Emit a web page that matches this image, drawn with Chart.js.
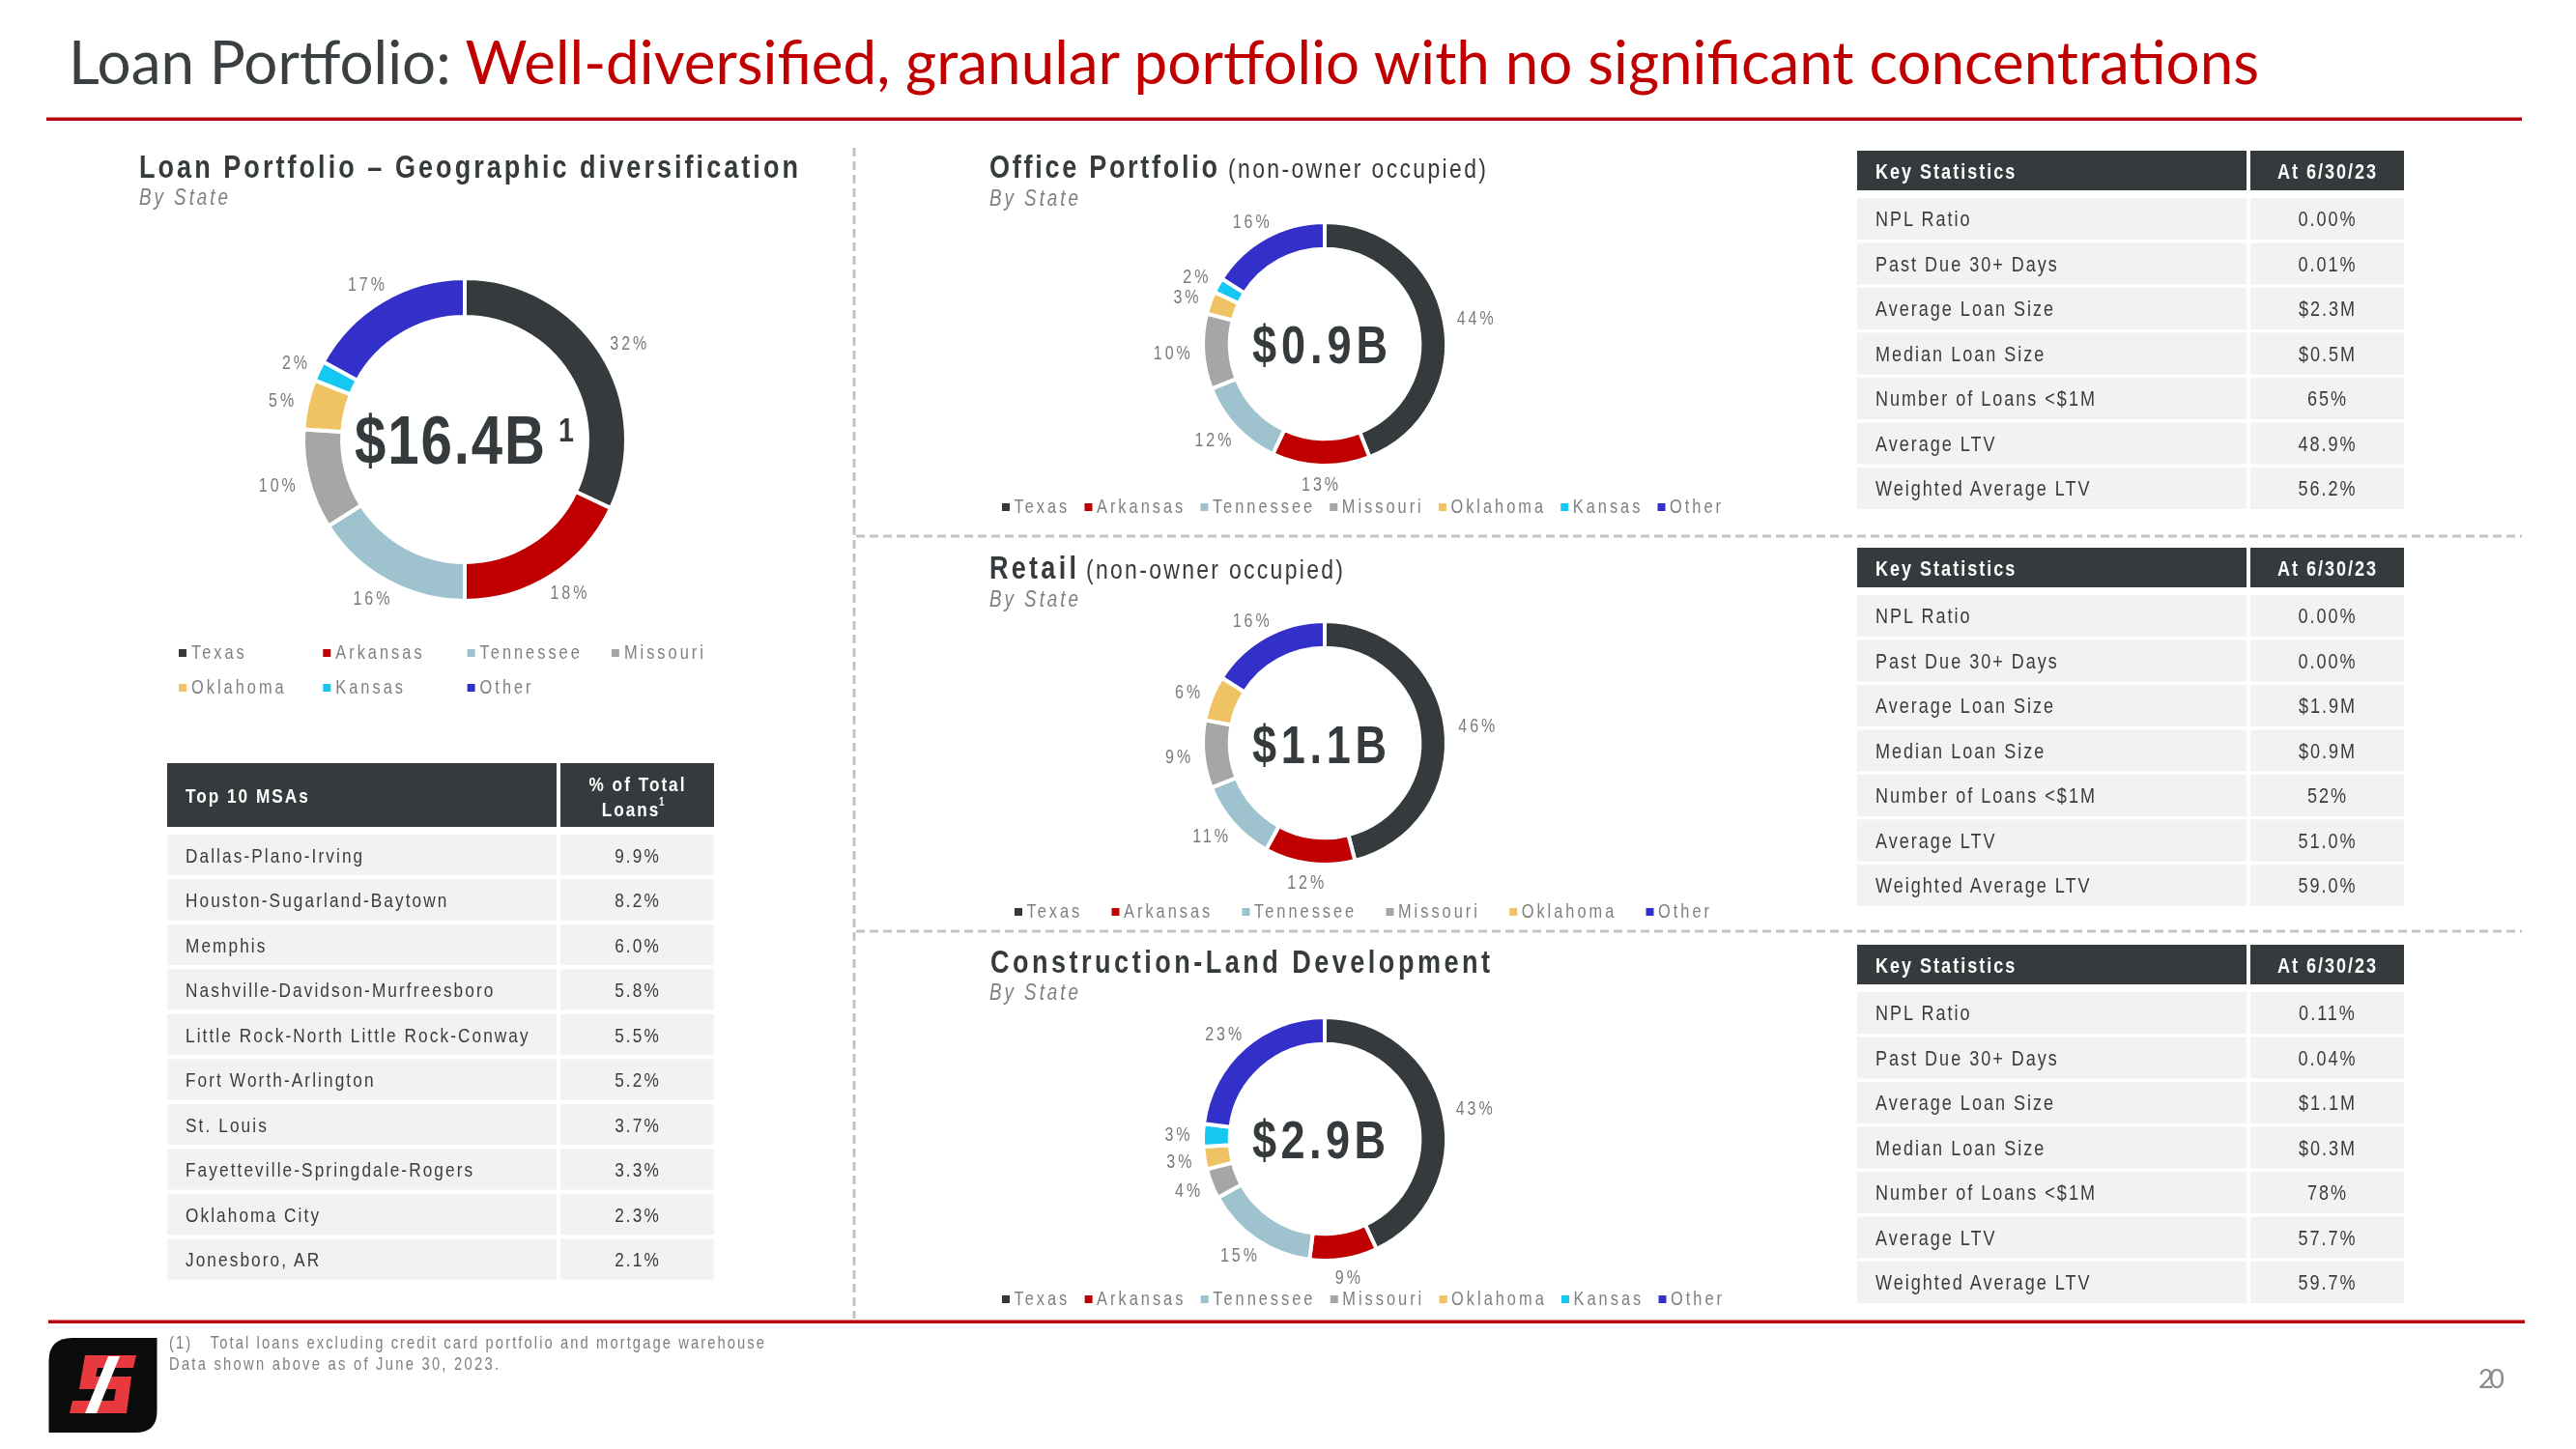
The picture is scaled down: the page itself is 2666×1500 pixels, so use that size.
<!DOCTYPE html>
<html><head><meta charset="utf-8">
<script src="https://cdn.jsdelivr.net/npm/chart.js@4.4.0/dist/chart.umd.min.js"></script>
<style>
html,body{margin:0;padding:0;background:#fff;}
#slide{position:relative;width:2666px;height:1500px;overflow:hidden;background:#fff;}
canvas.donut{position:absolute;}
#ov{position:absolute;left:0;top:0;}
</style></head>
<body><div id="slide">
<canvas id="cTotal" class="donut"></canvas>
<canvas id="cOffice" class="donut"></canvas>
<canvas id="cRetail" class="donut"></canvas>
<canvas id="cConstr" class="donut"></canvas>
<svg id="ov" width="2666" height="1500" xmlns="http://www.w3.org/2000/svg"></svg>
</div>
<script>
// ---------------- DATA ----------------
const states = ['Texas','Arkansas','Tennessee','Missouri','Oklahoma','Kansas','Other'];
const totalShare = [32,18,16,10,5,2,17];
const officeShare = [44,13,12,10,3,2,16];
const retailStates = ['Texas','Arkansas','Tennessee','Missouri','Oklahoma','Other'];
const retailShare = [46,12,11,9,6,16];
const constructionShare = [43,9,15,4,3,3,23];
const stateColors = {Texas:'#353a3d',Arkansas:'#c00000',Tennessee:'#9ec3cf',Missouri:'#a6a6a6',Oklahoma:'#efc263',Kansas:'#14c8f2',Other:'#3330c9'};

const totals = {total:'$16.4B', office:'$0.9B', retail:'$1.1B', construction:'$2.9B'};

const msaNames = ['Dallas-Plano-Irving','Houston-Sugarland-Baytown','Memphis','Nashville-Davidson-Murfreesboro','Little Rock-North Little Rock-Conway','Fort Worth-Arlington','St. Louis','Fayetteville-Springdale-Rogers','Oklahoma City','Jonesboro, AR'];
const msaShares = [9.9,8.2,6.0,5.8,5.5,5.2,3.7,3.3,2.3,2.1];

const statLabels = ['NPL Ratio','Past Due 30+ Days','Average Loan Size','Median Loan Size','Number of Loans <$1M','Average LTV','Weighted Average LTV'];
const officeStats = ['0.00%','0.01%','$2.3M','$0.5M','65%','48.9%','56.2%'];
const retailStats = ['0.00%','0.00%','$1.9M','$0.9M','52%','51.0%','59.0%'];
const constructionStats = ['0.11%','0.04%','$1.1M','$0.3M','78%','57.7%','59.7%'];

// ---------------- HELPERS ----------------
const SANS = '"Liberation Sans",Arimo,Arial,sans-serif';
const SX = 0.82;
const NS = 'http://www.w3.org/2000/svg';
const svg = document.getElementById('ov');
function el(tag, attrs, parent){ const e=document.createElementNS(NS,tag); for(const k in attrs) e.setAttribute(k,attrs[k]); (parent||svg).appendChild(e); return e; }
function T(x,y,s,o){ o=o||{};
  const narrow = !o.family;
  const a={'font-family':o.family||SANS,'font-size':o.size||22,fill:o.color||'#3b3b3b'};
  if(narrow){ a.x=0; a.y=0; a.transform='translate('+x+','+y+') scale('+SX+',1)'; } else { a.x=x; a.y=y; }
  if(o.weight) a['font-weight']=o.weight;
  if(o.italic) a['font-style']='italic';
  if(o.anchor) a['text-anchor']=o.anchor;
  if(o.spacing!=null) a['letter-spacing']= narrow ? o.spacing/SX : o.spacing;
  if(o.len){ a.textLength = narrow ? o.len/SX : o.len; a.lengthAdjust=o.adjust||'spacing'; }
  const e=el('text',a); e.textContent=s; e._narrow=narrow; e._y=y; return e; }
function moveX(e,x){ if(e._narrow) e.setAttribute('transform','translate('+x+','+e._y+') scale('+SX+',1)'); else e.setAttribute('x',x); }
function widthOf(e){ return e.getComputedTextLength()*(e._narrow?SX:1); }

// ---------------- DONUT LABEL PLUGIN ----------------
const outLabels = {
  id:'outLabels',
  afterDatasetsDraw(chart, args, opts){
    const ctx=chart.ctx, meta=chart.getDatasetMeta(0), vals=chart.data.datasets[0].data;
    ctx.save();
    ctx.font = opts.size+'px '+SANS;
    try{ ctx.letterSpacing = (opts.spacing/SX)+'px'; }catch(e){}
    ctx.fillStyle = '#7a7a7a'; ctx.textAlign='center'; ctx.textBaseline='alphabetic';
    meta.data.forEach((arc,i)=>{
      const p = arc.getProps(['x','y','startAngle','endAngle','outerRadius'], true);
      const a = (p.startAngle+p.endAngle)/2;
      const t = vals[i]+'%';
      const w = ctx.measureText(t).width*SX, h = opts.size*0.72;
      const r = p.outerRadius + opts.gap;
      const cx = p.x + Math.cos(a)*(r + w/2);
      const cy = p.y + Math.sin(a)*(r + h/2);
      ctx.save();
      ctx.translate(cx + opts.spacing/2, cy + h/2);
      ctx.scale(SX,1);
      ctx.fillText(t, 0, 0);
      ctx.restore();
    });
    ctx.restore();
  }
};

function makeDonut(id, cx, cy, R, cutout, labels, values, gap){
  const pad = 90, size = Math.round(2*(R+pad));
  const cv = document.getElementById(id);
  cv.width=size; cv.height=size;
  cv.style.width=size+'px'; cv.style.height=size+'px';
  cv.style.left=(cx-size/2)+'px'; cv.style.top=(cy-size/2)+'px';
  new Chart(cv,{
    type:'doughnut',
    data:{labels:labels, datasets:[{data:values, backgroundColor:labels.map(l=>stateColors[l]), borderColor:'#ffffff', borderWidth:4, hoverOffset:0}]},
    options:{responsive:false, animation:false, events:[], radius:R+2, cutout:cutout, layout:{padding:0},
      plugins:{legend:{display:false}, tooltip:{enabled:false}, outLabels:{size:19.5, spacing:3, gap:gap}}},
    plugins:[outLabels]
  });
}

makeDonut('cTotal', 481, 455, 165, '76%', states, totalShare, 13);
makeDonut('cOffice', 1371, 356, 124, '78%', states, officeShare, 12);
makeDonut('cRetail', 1371, 769, 124, '78%', retailStates, retailShare, 12);
makeDonut('cConstr', 1371, 1179, 124, '78%', states, constructionShare, 12);

// ---------------- STATIC SLIDE ----------------
const tt = T(71, 87, '', {family:'Lato, "Open Sans", sans-serif', size:61, color:'#3a3f42', len:2267, adjust:'spacingAndGlyphs'});
const ts1 = el('tspan',{fill:'#3a3f42'},tt); ts1.textContent='Loan Portfolio: ';
const ts2 = el('tspan',{fill:'#c00000'},tt); ts2.textContent='Well-diversified, granular portfolio with no significant concentrations';
el('rect',{x:48,y:121.5,width:2562,height:3.5,fill:'#b8000f'});
el('rect',{x:50,y:1366.5,width:2563,height:3.5,fill:'#b8000f'});
const dash={stroke:'#c4c4c4','stroke-width':3,'stroke-dasharray':'9 5'};
el('line',Object.assign({x1:884,y1:153,x2:884,y2:1365},dash));
el('line',Object.assign({x1:886,y1:555,x2:2610,y2:555},dash));
el('line',Object.assign({x1:886,y1:964,x2:2610,y2:964},dash));

const gray='#7f7f7f', dark='#353a3d';
T(144,184,'Loan Portfolio – Geographic diversification',{size:33,weight:'bold',color:dark,len:682});
T(144,212,'By State',{size:23,italic:true,color:gray,len:92});
T(1024,184,'Office Portfolio',{size:33,weight:'bold',color:dark,len:236});
T(1271,184,'(non-owner occupied)',{size:28,color:dark,len:267});
T(1024,213,'By State',{size:23,italic:true,color:gray,len:92});
T(1024,599,'Retail',{size:33,weight:'bold',color:dark,len:90});
T(1124,599,'(non-owner occupied)',{size:28,color:dark,len:266});
T(1024,628,'By State',{size:23,italic:true,color:gray,len:92});
T(1025,1007,'Construction-Land Development',{size:33,weight:'bold',color:dark,len:517});
T(1024,1035,'By State',{size:23,italic:true,color:gray,len:92});

// center totals
T(367,480,totals.total,{size:71,weight:'bold',color:dark,len:197});
T(578,457,'1',{size:35,weight:'bold',color:dark});
T(1296,376,totals.office,{size:55,weight:'bold',color:dark,len:140});
T(1296,790,totals.retail,{size:55,weight:'bold',color:dark,len:139});
T(1296,1199,totals.construction,{size:55,weight:'bold',color:dark,len:138});

// legends
function legendRow(labels, x0, x1, baseline){
  const nodes = labels.map(l=>T(0,baseline,l,{size:20,color:gray,spacing:3}));
  const widths = nodes.map(widthOf);
  const box=8, bgap=4.5;
  const total = widths.reduce((s,w)=>s+w+box+bgap,0);
  const gap = (x1-x0-total)/(labels.length-1);
  let x=x0;
  labels.forEach((l,i)=>{
    el('rect',{x:x,y:baseline-10,width:box,height:box,fill:stateColors[l]});
    moveX(nodes[i], x+box+bgap);
    x += box+bgap+widths[i]+gap;
  });
}
legendRow(states, 1037, 1784, 531);
legendRow(retailStates, 1050, 1772, 950);
legendRow(states, 1037, 1785, 1351);
states.forEach((l,i)=>{
  const col=i%4, row=Math.floor(i/4);
  const x=185+col*149.3, b=682+row*36;
  el('rect',{x:x,y:b-10,width:8,height:8,fill:stateColors[l]});
  T(x+13,b,l,{size:20,color:gray,spacing:3});
});

// ---------------- TABLES ----------------
const rowBg='#f2f2f2', hdrBg='#353a3d', txt='#3b3b3b';
el('rect',{x:173,y:790,width:403,height:66,fill:hdrBg});
el('rect',{x:580,y:790,width:159,height:66,fill:hdrBg});
T(192,831,'Top 10 MSAs',{size:21,weight:'bold',color:'#fff',spacing:2});
T(660,819,'% of Total',{size:21,weight:'bold',color:'#fff',spacing:2,anchor:'middle'});
T(653,845,'Loans',{size:21,weight:'bold',color:'#fff',spacing:2,anchor:'middle'});
T(682,834,'1',{size:12,weight:'bold',color:'#fff'});
msaNames.forEach((n,i)=>{
  const y=864+i*46.5;
  el('rect',{x:173,y:y,width:403,height:42,fill:rowBg});
  el('rect',{x:580,y:y,width:159,height:42,fill:rowBg});
  T(192,y+28.5,n,{size:21,color:txt,spacing:2.1});
  T(660,y+28.5,msaShares[i].toFixed(1)+'%',{size:21,color:txt,spacing:2.1,anchor:'middle'});
});
function keyTable(top, vals){
  el('rect',{x:1922,y:top,width:403,height:41,fill:hdrBg});
  el('rect',{x:2329,y:top,width:159,height:41,fill:hdrBg});
  T(1941,top+29,'Key Statistics',{size:22,weight:'bold',color:'#fff',spacing:2});
  T(2409,top+29,'At 6/30/23',{size:22,weight:'bold',color:'#fff',spacing:2,anchor:'middle'});
  statLabels.forEach((l,i)=>{
    const y=top+49+i*46.5;
    el('rect',{x:1922,y:y,width:403,height:43,fill:rowBg});
    el('rect',{x:2329,y:y,width:159,height:43,fill:rowBg});
    T(1941,y+29,l,{size:22,color:txt,spacing:2});
    T(2409,y+29,vals[i],{size:22,color:txt,spacing:2,anchor:'middle'});
  });
}
keyTable(156, officeStats);
keyTable(567, retailStats);
keyTable(978, constructionStats);

T(175,1396,'(1)\u00a0\u00a0\u00a0Total loans excluding credit card portfolio and mortgage warehouse',{size:18,color:gray,len:616});
T(175,1418,'Data shown above as of June 30, 2023.',{size:18,color:gray,len:341});
T(2565,1437,'20',{family:'Lato, sans-serif',size:27,color:'#8a8a8a',len:27});

el('path',{d:'M75,1385 L162.5,1385 L162.5,1461 Q162.5,1483 140,1483 L50.5,1483 L50.5,1409 Q50.5,1385 75,1385 Z',fill:'#0b0b0b'});
el('path',{d:'M88,1403 L141,1403 L138,1416 L101,1416 L99,1425 L136,1425 L131,1463 L72,1463 L75,1450 L118,1450 L120,1438 L82,1438 Z',fill:'#e8393e'});
el('path',{d:'M112,1404 L124,1404 L100,1463 L88,1463 Z',fill:'#ffffff'});
</script>
</body></html>
